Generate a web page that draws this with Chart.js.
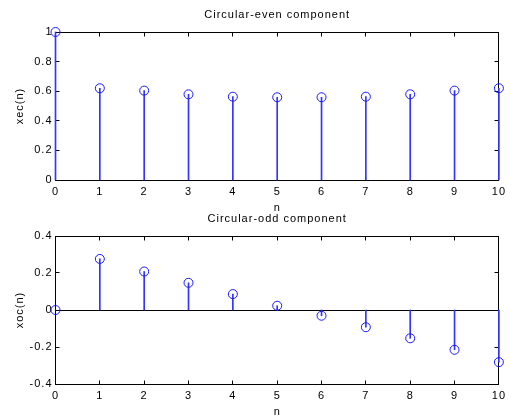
<!DOCTYPE html>
<html>
<head>
<meta charset="utf-8">
<script src="https://cdn.jsdelivr.net/npm/chart.js@4.4.0/dist/chart.umd.min.js"></script>
<style>
  body { margin: 0; background: #fff; }
  #wrap { position: relative; width: 511px; height: 419px; }
  canvas { position: absolute; left: 0; }
  #evenGraph { top: 0; }
  #oddGraph { top: 204px; }
</style>
</head>
<body>
<div id="wrap">
  <canvas id="evenGraph" width="511" height="215"></canvas>
  <canvas id="oddGraph" width="511" height="215"></canvas>
</div>
<script>
// sample index and the two components
var n = [0, 1, 2, 3, 4, 5, 6, 7, 8, 9, 10];
var xec = [1.0, 0.62, 0.604, 0.579, 0.563, 0.559, 0.559, 0.563, 0.579, 0.604, 0.62];
var xoc = [0, 0.276, 0.208, 0.147, 0.086, 0.023, -0.031, -0.093, -0.153, -0.215, -0.282];
var xecTicks = [0, 0.2, 0.4, 0.6, 0.8, 1];
var xocTicks = [-0.4, -0.2, 0, 0.2, 0.4];

var FONT = "'Liberation Sans', Arial, sans-serif";
var BLUE = '#1a1aff';
var STEM = '#3333ff';

// matlab's text is spaced wider than the canvas default
var spacingPlugin = {
    id: 'spacing',
    beforeLayout: function(chart){ chart.ctx.letterSpacing = '1px'; },
    beforeDraw: function(chart){ chart.ctx.letterSpacing = '1px'; }
};

// draws the matlab style box, inward ticks and the zero baseline
var boxPlugin = {
    id: 'box',
    beforeDatasetsDraw: function(chart){
        var ctx = chart.ctx, a = chart.chartArea;
        var xs = chart.scales.x, ys = chart.scales.y;
        var tl = 4;
        var L = Math.floor(a.left) + 0.5, R = Math.floor(a.right) + 0.5;
        var T = Math.floor(a.top) + 0.5, B = Math.floor(a.bottom) + 0.5;
        ctx.save();
        ctx.strokeStyle = '#000';
        ctx.lineWidth = 1;
        // baseline at zero when the axis goes below it
        if (ys.min < 0) {
            var y0 = Math.floor(ys.getPixelForValue(0)) + 0.5;
            ctx.beginPath();
            ctx.moveTo(L, y0);
            ctx.lineTo(R, y0);
            ctx.stroke();
        }
        ctx.beginPath();
        xs.ticks.forEach(function(t){
            var px = Math.floor(xs.getPixelForValue(t.value)) + 0.5;
            ctx.moveTo(px, B); ctx.lineTo(px, B - tl);
            ctx.moveTo(px, T); ctx.lineTo(px, T + tl);
        });
        ys.ticks.forEach(function(t){
            var py = Math.floor(ys.getPixelForValue(t.value)) + 0.5;
            ctx.moveTo(L, py); ctx.lineTo(L + tl, py);
            ctx.moveTo(R, py); ctx.lineTo(R - tl, py);
        });
        ctx.stroke();
        ctx.strokeRect(L, T, R - L, B - T);
        ctx.restore();
    }
};

function stemChart(id, title, yLabel, values, yMin, yMax, yTicks){
    var pts = n.map(function(v, i){ return {x: v, y: values[i]}; });

    var config = {
        type: 'bar',
        data: {
            datasets: [{
                type: 'line',
                data: pts,
                showLine: false,
                pointStyle: 'circle',
                pointRadius: 4.5,
                pointBorderWidth: 1,
                pointBorderColor: BLUE,
                pointBackgroundColor: 'rgba(0,0,0,0)',
                clip: false,
                order: 0
            }, {
                type: 'bar',
                data: pts,
                backgroundColor: STEM,
                barThickness: 1,
                clip: false,
                order: 1
            }]
        },
        options: {
            responsive: false,
            animation: false,
            layout: { padding: { left: 0, right: 5.5, top: 0, bottom: 0 } },
            plugins: {
                legend: { display: false },
                tooltip: { enabled: false },
                title: {
                    display: true,
                    text: title,
                    fullSize: false,
                    color: '#000',
                    font: { family: FONT, size: 11, weight: 'normal' },
                    padding: { top: 8, bottom: 10.8 }
                }
            },
            scales: {
                x: {
                    type: 'linear',
                    min: 0,
                    max: 10,
                    offset: false,
                    grid: { display: false, drawTicks: false },
                    border: { display: false },
                    ticks: {
                        stepSize: 1,
                        autoSkip: false,
                        maxRotation: 0,
                        padding: 5,
                        color: '#000',
                        font: { family: FONT, size: 11 }
                    },
                    title: {
                        display: true,
                        text: 'n',
                        color: '#000',
                        font: { family: FONT, size: 11 },
                        padding: { top: 0, bottom: 0 }
                    },
                    afterFit: function(s){ s.height = 35; }
                },
                y: {
                    min: yMin,
                    max: yMax,
                    grid: { display: false, drawTicks: false },
                    border: { display: false },
                    afterBuildTicks: function(s){
                        s.ticks = yTicks.map(function(v){ return {value: v}; });
                    },
                    ticks: {
                        padding: 3,
                        color: '#000',
                        font: { family: FONT, size: 11 },
                        callback: function(v){ return String(Math.round(v * 10) / 10); }
                    },
                    title: {
                        display: true,
                        text: yLabel,
                        color: '#000',
                        font: { family: FONT, size: 11 },
                        padding: { top: 13.4, bottom: 0 }
                    },
                    afterFit: function(s){ s.width = 55.5; }
                }
            }
        },
        plugins: [spacingPlugin, boxPlugin]
    };

    return new Chart(document.getElementById(id), config);
}

stemChart('evenGraph', 'Circular-even component', 'xec(n)', xec, 0, 1, xecTicks);
stemChart('oddGraph', 'Circular-odd component', 'xoc(n)', xoc, -0.4, 0.4, xocTicks);
</script>
</body>
</html>
